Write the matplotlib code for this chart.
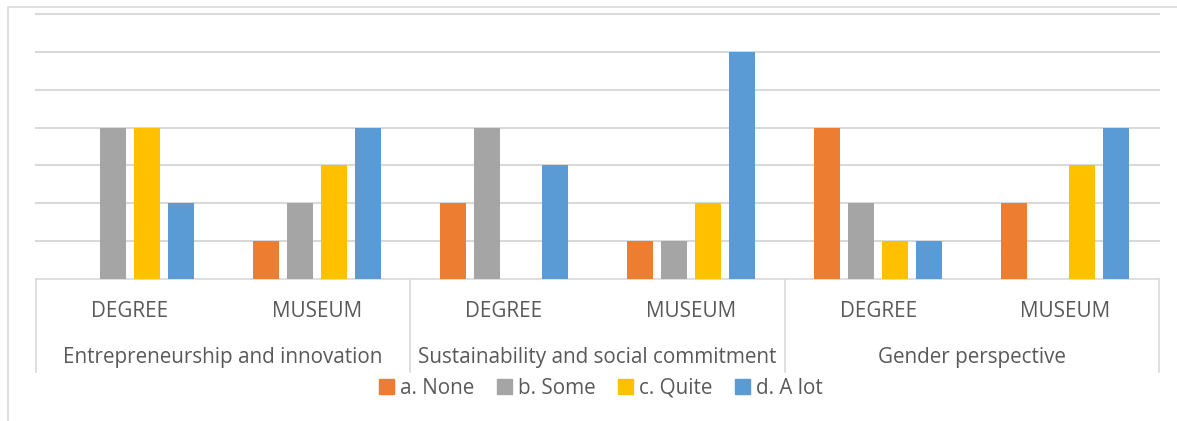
import matplotlib.pyplot as plt
from matplotlib.patches import Rectangle
from matplotlib.lines import Line2D
import numpy as np

plt.rcParams['font.family'] = ['Open Sans', 'DejaVu Sans']

groups = ["Entrepreneurship and innovation", "Sustainability and social commitment", "Gender perspective"]
subcats = ["DEGREE", "MUSEUM"]
series = ["a. None", "b. Some", "c. Quite", "d. A lot"]
colors = ["#ed7d31", "#a5a5a5", "#ffc000", "#5b9bd5"]

# one value per bar, order: E-DEGREE, E-MUSEUM, S-DEGREE, S-MUSEUM, G-DEGREE, G-MUSEUM
none_vals = [0, 1, 2, 1, 4, 2]
some_vals = [4, 2, 4, 1, 2, 0]
quite_vals = [4, 3, 0, 2, 1, 3]
alot_vals = [2, 4, 3, 6, 1, 4]
values = [none_vals, some_vals, quite_vals, alot_vals]

W, H = 1177, 421
fig = plt.figure(figsize=(W / 100, H / 100), dpi=100)
ax = fig.add_axes([36 / W, 1 - 279 / H, (1159 - 36) / W, (279 - 14) / H])

x = np.arange(len(none_vals))
pitch = 0.1816
width = 0.139
for i, (vals, c, lab) in enumerate(zip(values, colors, series)):
    ax.bar(x + (i - 1.5) * pitch, vals, width, color=c, label=lab, zorder=3)

ax.set_xlim(-0.5, len(x) - 0.5)
ax.set_ylim(0, 7)
ax.set_yticks(range(1, 8))
ax.yaxis.grid(True, color="#d9d9d9", linewidth=1.5, clip_on=False)
ax.set_axisbelow(True)
ax.tick_params(left=False, labelleft=False, bottom=False, labelbottom=False)
for s in ["left", "right", "top"]:
    ax.spines[s].set_visible(False)
ax.spines["bottom"].set_color("#d9d9d9")
ax.spines["bottom"].set_linewidth(1.2)

# category axis below the plot
txt = "#595959"
fs = 14.9
for i in x:
    ax.text(i, -0.85, subcats[i % 2], ha="center", va="center", fontsize=fs, color=txt)
for g, name in enumerate(groups):
    ax.text(2 * g + 0.5, -2.07, name, ha="center", va="center", fontsize=fs, color=txt)
for b in [-0.5, 1.5, 3.5, 5.5]:
    ax.add_line(Line2D([b, b], [0, -2.45], color="#d9d9d9", linewidth=1.2, clip_on=False))

# outer chart border
fig.patches.append(Rectangle((8 / W, -0.1), 1.2, 1 - 7 / H + 0.1, transform=fig.transFigure,
                             fill=False, edgecolor="#d9d9d9", linewidth=1.2))

handles = [Rectangle((0, 0), 1, 1, color=c) for c in colors]
fig.legend(handles, series, loc="center", bbox_to_anchor=(601 / W, 1 - 388 / H), ncol=4,
           frameon=False, fontsize=fs, labelcolor=txt, handlelength=0.7, handleheight=0.7,
           handletextpad=0.3, columnspacing=1.1)

fig.savefig("out.png", dpi=100)
